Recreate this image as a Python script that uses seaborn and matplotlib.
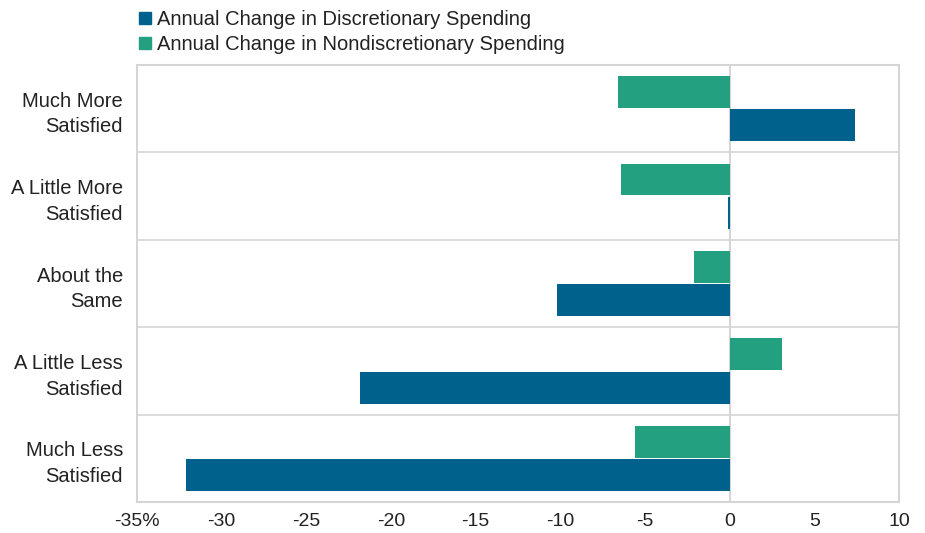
import pandas as pd
import matplotlib.pyplot as plt
import seaborn as sns
from matplotlib.lines import Line2D
from matplotlib.ticker import FuncFormatter

# Dados
categorias = ['Much More\nSatisfied', 'A Little More\nSatisfied', 'About the\nSame',
              'A Little Less\nSatisfied', 'Much Less\nSatisfied']
discricionario = [7.4, -0.1, -10.2, -21.8, -32.1]
nao_discricionario = [-6.6, -6.4, -2.1, 3.1, -5.6]
serie_disc = 'Annual Change in Discretionary Spending'
serie_nao_disc = 'Annual Change in Nondiscretionary Spending'
x_ticks = [-35, -30, -25, -20, -15, -10, -5, 0, 5, 10]

df = pd.DataFrame({
    'categoria': categorias * 2,
    'valor': nao_discricionario + discricionario,
    'serie': [serie_nao_disc] * 5 + [serie_disc] * 5,
})

cores = {serie_disc: '#00618C', serie_nao_disc: '#22A07F'}

sns.set_style('white')
plt.rcParams['font.family'] = ['Liberation Sans', 'DejaVu Sans']
plt.rcParams['text.color'] = '#222222'

fig = plt.figure(figsize=(9.25, 5.33), dpi=100)
ax = fig.add_axes([0.148, 0.058, 0.824, 0.820])

ax.axvline(0, color='#d5d5d5', lw=1.5, zorder=0)
sns.barplot(data=df, y='categoria', x='valor', hue='serie',
            hue_order=[serie_nao_disc, serie_disc], palette=cores,
            order=categorias, orient='h', width=0.76, gap=0.04,
            saturation=1, legend=False, ax=ax, zorder=2,
            linewidth=0, edgecolor='none')

ax.set_xlim(-35, 10)
ax.set_ylim(len(categorias) - 0.5, -0.5)
ax.set_xticks(x_ticks)
ax.xaxis.set_major_formatter(FuncFormatter(lambda v, p: f'{int(v)}%' if v == -35 else f'{int(v)}'))
for y in [0.5, 1.5, 2.5, 3.5]:
    ax.axhline(y, color='#d5d5d5', lw=1.2, zorder=0)

for s in ax.spines.values():
    s.set_color('#d5d5d5')
    s.set_linewidth(1.5)

ax.tick_params(axis='x', direction='in', length=5, color='#d5d5d5', width=1.2,
               labelsize=14, labelcolor='#222222', pad=8)
ax.tick_params(axis='y', length=0, labelsize=14.5, labelcolor='#222222', pad=10)
for lbl in ax.get_yticklabels():
    lbl.set_horizontalalignment('right')
    lbl.set_multialignment('right')
    lbl.set_linespacing(1.45)
ax.set_xlabel('')
ax.set_ylabel('')

handles = [Line2D([], [], marker='s', ls='', color=cores[serie_disc], markersize=8),
           Line2D([], [], marker='s', ls='', color=cores[serie_nao_disc], markersize=8)]
fig.legend(handles, [serie_disc, serie_nao_disc], loc='upper left',
           bbox_to_anchor=(0.137, 0.997), frameon=False, fontsize=14.5,
           handletextpad=0.1, labelspacing=0.33, handlelength=1.0, borderaxespad=0)

plt.savefig('out.png', dpi=100)
